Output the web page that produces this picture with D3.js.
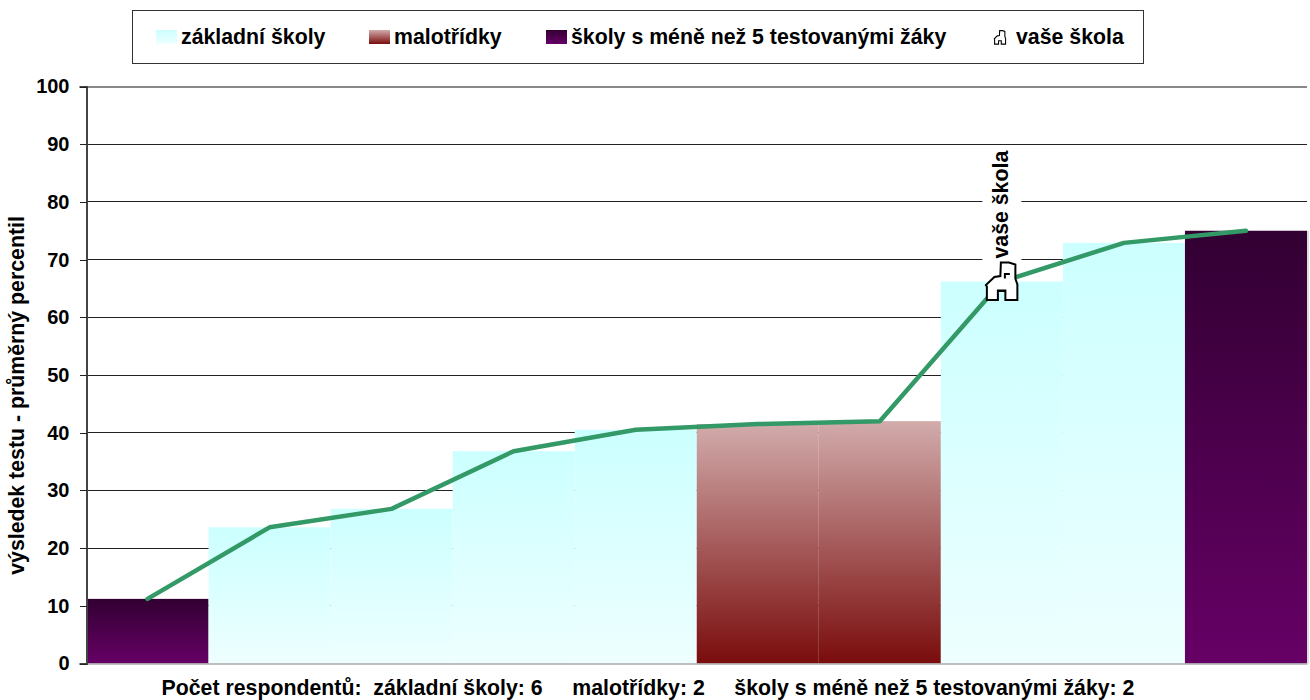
<!DOCTYPE html>
<html>
<head>
<meta charset="utf-8">
<script src="https://cdn.jsdelivr.net/npm/d3@7"></script>
<style>
    html, body { margin: 0; padding: 0; background: #fff; }
    svg { display: block; }
    text { font-family: "Liberation Sans", Arial, sans-serif; font-weight: bold; fill: #000; }
</style>
</head>
<body>
<div id="chart"></div>
<script>
// Data
const positions = ["1", "2", "3", "4", "5", "6", "7", "8", "9", "10"];
const percentile = [11.2, 23.6, 26.8, 36.8, 40.5, 41.5, 42, 66.2, 72.9, 75];
const schoolType = ["few", "basic", "basic", "basic", "basic", "small", "small", "basic", "basic", "few"];
const yTicks = [0, 10, 20, 30, 40, 50, 60, 70, 80, 90, 100];
const yourSchool = "8";
const yourSchoolLabel = "vaše škola";
const yTitle = "výsledek testu - průměrný percentil";
const footer = "Počet respondentů:  základní školy: 6     malotřídky: 2     školy s méně než 5 testovanými žáky: 2";
const legendTypes = ["basic", "small", "few"];
const legendLabels = ["základní školy", "malotřídky", "školy s méně než 5 testovanými žáky"];

const gradients = {
    basic: ["#ccffff", "#eeffff"],
    small: ["#d2abab", "#7a0c0c"],
    few: ["#320032", "#660066"]
};

const width = 1310, height = 700;
const plot = { left: 86.5, right: 1307, top: 86.5, bottom: 663.5 };
const labelSize = 21.3, axisSize = 20;

const svg = d3.select("#chart").append("svg")
    .attr("width", width)
    .attr("height", height);

const x = d3.scaleBand().domain(positions).range([plot.left, plot.right]);
const y = d3.scaleLinear().domain([0, 100]).range([plot.bottom, plot.top]);

// gradient per school type
const defs = svg.append("defs");
Object.keys(gradients).forEach(key => {
    const g = defs.append("linearGradient")
        .attr("id", "grad-" + key)
        .attr("x1", 0).attr("y1", 0).attr("x2", 0).attr("y2", 1);
    g.append("stop").attr("offset", "0%").attr("stop-color", gradients[key][0]);
    g.append("stop").attr("offset", "100%").attr("stop-color", gradients[key][1]);
});

// gridlines
svg.append("g").selectAll("line")
    .data(yTicks.filter(d => d > 0))
    .enter().append("line")
    .attr("x1", plot.left).attr("x2", plot.right)
    .attr("y1", d => y(d)).attr("y2", d => y(d))
    .attr("stroke", d => d === 100 ? "#888" : "#222")
    .attr("stroke-width", d => d === 100 ? 2 : 1)
    .attr("shape-rendering", "crispEdges");

// bars
svg.append("g").selectAll("rect")
    .data(positions)
    .enter().append("rect")
    .attr("x", d => x(d))
    .attr("width", x.bandwidth())
    .attr("y", (d, i) => y(percentile[i]))
    .attr("height", (d, i) => y(0) - y(percentile[i]))
    .attr("fill", (d, i) => `url(#grad-${schoolType[i]})`);

// axes
const xAxis = svg.append("g")
    .attr("transform", `translate(0,${plot.bottom})`)
    .call(d3.axisBottom(x).tickSize(0).tickFormat(""));
xAxis.select(".domain").attr("stroke", "#aaa").attr("stroke-width", 1.5);

// thin grey edge on the right side of the plot
svg.append("line")
    .attr("x1", plot.right + 1).attr("x2", plot.right + 1)
    .attr("y1", y(75)).attr("y2", plot.bottom)
    .attr("stroke", "#bbb");

const yAxis = svg.append("g")
    .attr("transform", `translate(${plot.left},0)`)
    .call(d3.axisLeft(y).tickValues(yTicks).tickSize(7).tickPadding(10));
yAxis.selectAll("text").attr("font-size", axisSize);
yAxis.selectAll("line").attr("stroke", "#222").attr("shape-rendering", "crispEdges");
yAxis.select(".domain").attr("stroke", "#444").attr("stroke-width", 2);

// line
const line = d3.line()
    .x(d => x(d) + x.bandwidth() / 2)
    .y((d, i) => y(percentile[i]));

svg.append("path")
    .datum(positions)
    .attr("d", line)
    .attr("fill", "none")
    .attr("stroke", "#339966")
    .attr("stroke-width", 4.5)
    .attr("stroke-linecap", "round")
    .attr("stroke-linejoin", "round");

// house marker, drawn around its own centre
const housePath = "M-1,-19 H7 L13.5,-17 V-3 L15.5,3 V18.5 H3.5 V9 H-4 V18.5 H-15 V5 L-16,3.5 L-7.5,-4.5 L-1.5,-5.5 Z";
const houseFlag = "M3,-3 V-7.5 H8 M-4,9.5 H3.5";

const schoolIndex = positions.indexOf(yourSchool);
const cx = x(yourSchool) + x.bandwidth() / 2;
const cy = y(percentile[schoolIndex]);

// white box behind the rotated label, it breaks the gridlines
svg.append("rect")
    .attr("x", cx - 19.5).attr("width", 39)
    .attr("y", cy - 136).attr("height", 118)
    .attr("fill", "#fff");

const house = svg.append("g").attr("transform", `translate(${cx},${cy})`);
house.append("path")
    .attr("d", housePath)
    .attr("fill", "#fff")
    .attr("stroke", "#000")
    .attr("stroke-width", 2);
house.append("path")
    .attr("d", houseFlag)
    .attr("fill", "none")
    .attr("stroke", "#000")
    .attr("stroke-width", 2);

svg.append("text")
    .attr("transform", `translate(${cx + 6},${cy - 23}) rotate(-90)`)
    .attr("font-size", labelSize)
    .text(yourSchoolLabel);

// y title
svg.append("text")
    .attr("transform", "translate(24,395.5) rotate(-90)")
    .attr("text-anchor", "middle")
    .attr("font-size", labelSize)
    .text(yTitle);

// footer
svg.append("text")
    .attr("x", 648).attr("y", 695)
    .attr("text-anchor", "middle")
    .attr("font-size", labelSize)
    .style("white-space", "pre")
    .text(footer);

// legend
const legend = svg.append("g");
legend.append("rect")
    .attr("x", 132.5).attr("y", 10.5)
    .attr("width", 1011).attr("height", 53)
    .attr("fill", "#fff")
    .attr("stroke", "#333");

const legendX = [156, 369, 546];
legendTypes.forEach((t, i) => {
    legend.append("rect")
        .attr("x", legendX[i]).attr("y", 30)
        .attr("width", 21).attr("height", 14)
        .attr("fill", `url(#grad-${t})`);
    legend.append("text")
        .attr("x", legendX[i] + 25).attr("y", 44)
        .attr("font-size", labelSize)
        .text(legendLabels[i]);
});
const legendHouse = legend.append("g").attr("transform", "translate(1000,37.5) scale(0.36)");
legendHouse.append("path")
    .attr("d", housePath)
    .attr("fill", "#fff")
    .attr("stroke", "#000")
    .attr("stroke-width", 3);
legend.append("text")
    .attr("x", 1016).attr("y", 44)
    .attr("font-size", labelSize)
    .text(yourSchoolLabel);
</script>
</body>
</html>
